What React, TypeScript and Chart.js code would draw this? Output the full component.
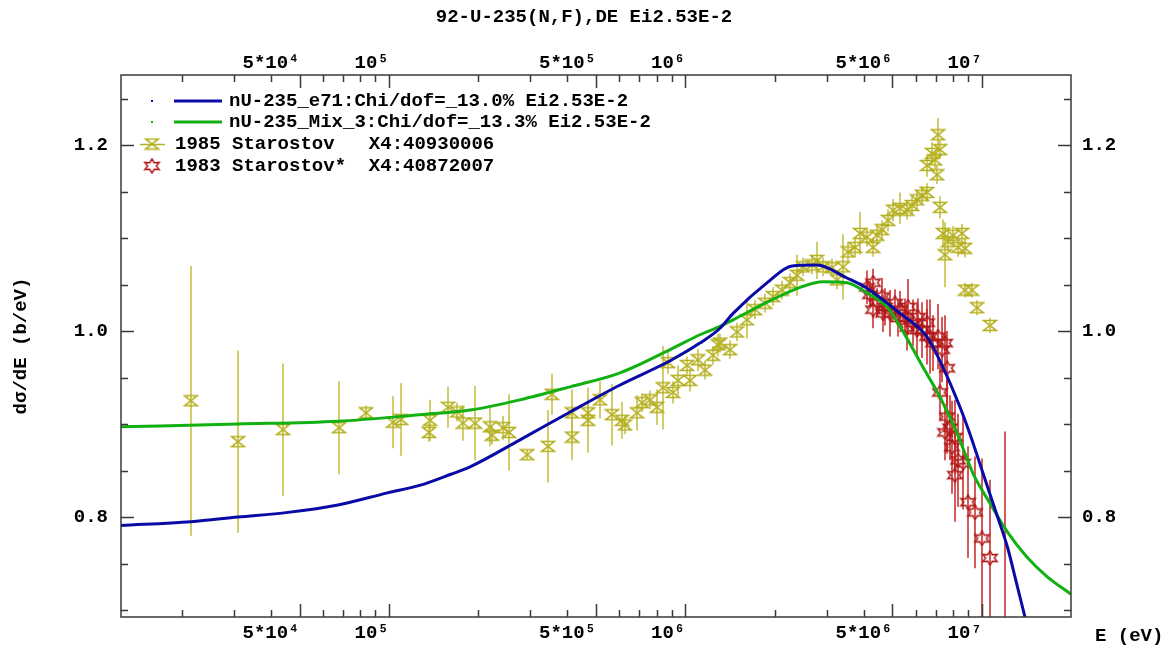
import React, { useEffect, useRef } from 'react';
import { Chart, registerables } from 'chart.js';

Chart.register(...registerables);

const FONT = "'Liberation Mono', 'DejaVu Sans Mono', monospace";

const chartTitle = '92-U-235(N,F),DE Ei2.53E-2';
const xAxisTitle = 'E (eV)';
const yAxisTitle = 'dσ/dE (b/eV)';

const xRange = [12500, 2.0e7];
const yRange = [0.6925, 1.2753];

const xMajorTicks = [5e4, 1e5, 5e5, 1e6, 5e6, 1e7];
const xMajorLabels = ['5*10⁴', '10⁵', '5*10⁵', '10⁶', '5*10⁶', '10⁷'];
const xMinorTicks = [2e4, 3e4, 4e4, 6e4, 7e4, 8e4, 9e4, 2e5, 3e5, 4e5, 6e5, 7e5, 8e5, 9e5, 2e6, 3e6, 4e6, 6e6, 7e6, 8e6, 9e6];
const yMajorTicks = [0.8, 1.0, 1.2];
const yMajorLabels = ['0.8', '1.0', '1.2'];
const yMinorTicks = [0.7, 0.75, 0.85, 0.9, 0.95, 1.05, 1.1, 1.15, 1.25];

const legendLabels = [
  'nU-235_e71:Chi/dof=_13.0% Ei2.53E-2',
  'nU-235_Mix_3:Chi/dof=_13.3% Ei2.53E-2',
  '1985 Starostov   X4:40930006',
  '1983 Starostov*  X4:40872007',
];

// evaluated curve nU-235_e71 (blue)
const e71Energy = [1.25e4, 2.15e4, 3.1e4, 4.57e4, 6.74e4, 9.9e4, 1.27e5, 1.62e5, 1.88e5, 2.77e5, 4.09e5, 6.03e5, 8.89e5, 1.12e6, 1.31e6, 1.45e6, 1.89e6, 2.29e6, 2.78e6, 3.51e6, 4.10e6, 5.30e6, 6.53e6, 7.40e6, 8.45e6, 9.13e6, 1.01e7, 1.12e7, 1.22e7, 1.31e7, 1.40e7, 1.45e7];
const e71Value = [0.791, 0.795, 0.8, 0.805, 0.813, 0.826, 0.834, 0.846, 0.854, 0.883, 0.913, 0.942, 0.968, 0.987, 1.003, 1.019, 1.052, 1.07, 1.071, 1.057, 1.046, 1.019, 0.994, 0.961, 0.918, 0.889, 0.847, 0.804, 0.768, 0.729, 0.692, 0.673];

// evaluated curve nU-235_Mix_3 (green)
const mix3Energy = [1.25e4, 3.1e4, 6.74e4, 1.27e5, 1.88e5, 2.77e5, 4.09e5, 6.03e5, 8.89e5, 1.12e6, 1.31e6, 1.45e6, 1.89e6, 2.44e6, 2.92e6, 3.51e6, 4.10e6, 4.79e6, 5.30e6, 6.34e6, 7.23e6, 8.26e6, 9.34e6, 1.07e7, 1.22e7, 1.42e7, 1.66e7, 2.0e7];
const mix3Value = [0.897, 0.9, 0.903, 0.91, 0.915, 0.926, 0.94, 0.955, 0.98, 0.996, 1.005, 1.012, 1.031, 1.047, 1.053, 1.052, 1.041, 1.026, 1.005, 0.961, 0.929, 0.89, 0.847, 0.814, 0.784, 0.757, 0.736, 0.717];

// [E (eV), value, uncertainty]
const starostov1985: [number, number, number][] = [
  [2.15e4, 0.925, 0.145], [3.1e4, 0.881, 0.098], [4.4e4, 0.894, 0.071], [6.8e4, 0.896, 0.05],
  [8.38e4, 0.912, 0.008], [1.034e5, 0.902, 0.028], [1.1e5, 0.905, 0.039], [1.378e5, 0.904, 0.022],
  [1.367e5, 0.891, 0.01], [1.585e5, 0.918, 0.022], [1.7e5, 0.913, 0.01], [1.78e5, 0.901, 0.019],
  [1.954e5, 0.901, 0.04], [2.196e5, 0.897, 0.021], [2.23e5, 0.888, 0.01], [2.43e5, 0.896, 0.013],
  [2.544e5, 0.891, 0.041], [2.93e5, 0.867, 0.005], [3.445e5, 0.876, 0.039], [3.55e5, 0.932, 0.022],
  [4.15e5, 0.912, 0.025], [4.15e5, 0.886, 0.025], [4.7e5, 0.912, 0.015], [4.7e5, 0.904, 0.035],
  [5.16e5, 0.926, 0.02], [5.66e5, 0.91, 0.033], [6.12e5, 0.904, 0.02], [6.26e5, 0.899, 0.01],
  [6.88e5, 0.912, 0.019], [7.15e5, 0.923, 0.01], [7.61e5, 0.926, 0.01], [8.03e5, 0.918, 0.019],
  [8.41e5, 0.939, 0.045], [8.75e5, 0.966, 0.012], [9.09e5, 0.934, 0.012], [9.45e5, 0.947, 0.016],
  [1.014e6, 0.963, 0.01], [1.038e6, 0.947, 0.012], [1.104e6, 0.969, 0.012], [1.166e6, 0.958, 0.01],
  [1.24e6, 0.974, 0.01], [1.29e6, 0.985, 0.012], [1.31e6, 0.987, 0.01], [1.416e6, 0.98, 0.01],
  [1.495e6, 0.999, 0.01], [1.616e6, 1.012, 0.02], [1.719e6, 1.023, 0.01], [1.858e6, 1.03, 0.01],
  [1.977e6, 1.037, 0.01], [2.12e6, 1.044, 0.01], [2.256e6, 1.052, 0.01], [2.382e6, 1.06, 0.022],
  [2.496e6, 1.069, 0.01], [2.676e6, 1.071, 0.01], [2.782e6, 1.076, 0.02], [2.914e6, 1.069, 0.01],
  [3.126e6, 1.068, 0.01], [3.25e6, 1.055, 0.01], [3.405e6, 1.069, 0.035], [3.54e6, 1.085, 0.01],
  [3.738e6, 1.09, 0.01], [3.886e6, 1.105, 0.023], [4.1e6, 1.101, 0.01], [4.3e6, 1.09, 0.01],
  [4.436e6, 1.103, 0.01], [4.61e6, 1.109, 0.01], [4.83e6, 1.119, 0.012], [5.02e6, 1.13, 0.012],
  [5.3e6, 1.132, 0.017], [5.6e6, 1.13, 0.01], [5.82e6, 1.135, 0.01], [6.05e6, 1.141, 0.01],
  [6.29e6, 1.146, 0.01], [6.54e6, 1.149, 0.01], [6.54e6, 1.178, 0.012], [6.8e6, 1.191, 0.012],
  [6.96e6, 1.184, 0.01], [7.12e6, 1.211, 0.018], [7.23e6, 1.195, 0.01], [7.07e6, 1.168, 0.01],
  [7.23e6, 1.133, 0.012], [7.4e6, 1.105, 0.015], [7.52e6, 1.082, 0.035], [7.7e6, 1.096, 0.01],
  [8.0e6, 1.103, 0.01], [8.32e6, 1.09, 0.01], [8.58e6, 1.105, 0.01], [8.78e6, 1.089, 0.01],
  [8.78e6, 1.044, 0.008], [9.27e6, 1.044, 0.008], [9.64e6, 1.025, 0.008], [1.066e7, 1.006, 0.008],
];

const starostov1983: [number, number, number][] = [
  [4.1e6, 1.047, 0.018], [4.2e6, 1.039, 0.015], [4.3e6, 1.052, 0.015], [4.3e6, 1.023, 0.02],
  [4.436e6, 1.031, 0.015], [4.61e6, 1.037, 0.02], [4.645e6, 1.019, 0.02], [4.72e6, 1.026, 0.02],
  [4.905e6, 1.019, 0.025], [5.1e6, 1.03, 0.015], [5.22e6, 1.014, 0.02], [5.3e6, 1.023, 0.02],
  [5.51e6, 1.015, 0.02], [5.6e6, 1.004, 0.025], [5.64e6, 1.026, 0.03], [5.865e6, 1.009, 0.025],
  [6.05e6, 1.001, 0.03], [6.1e6, 1.015, 0.02], [6.29e6, 1.001, 0.03], [6.54e6, 1.009, 0.025],
  [6.54e6, 0.994, 0.03], [6.69e6, 0.994, 0.04], [6.85e6, 0.987, 0.03], [7.12e6, 0.994, 0.035],
  [7.23e6, 0.934, 0.03], [7.35e6, 0.98, 0.035], [7.52e6, 0.987, 0.03], [7.52e6, 0.891, 0.03],
  [7.64e6, 0.96, 0.04], [7.64e6, 0.908, 0.04], [7.82e6, 0.896, 0.035], [7.94e6, 0.875, 0.05],
  [8.12e6, 0.886, 0.04], [8.12e6, 0.845, 0.05], [8.32e6, 0.861, 0.05], [8.65e6, 0.858, 0.05],
  [8.99e6, 0.816, 0.06], [9.49e6, 0.805, 0.06], [1.002e7, 0.777, 0.086], [1.066e7, 0.756, 0.084],
  [1.198e7, 0.6, 0.292],
];

const BLUE = '#0a0aa6';
const GREEN = '#12b012';
const YELLOW = '#b5b020';
const YELLOW_BAR = '#c2bd3a';
const RED = '#b01818';
const RED_BAR = '#c42424';

function makeHourglass(color: string) {
  const c = document.createElement('canvas');
  c.width = 16; c.height = 13;
  const g = c.getContext('2d')!;
  g.strokeStyle = color; g.lineWidth = 1.6;
  g.beginPath();
  g.moveTo(1.5, 1.5); g.lineTo(14.5, 1.5); g.lineTo(1.5, 11.5); g.lineTo(14.5, 11.5); g.closePath();
  g.stroke();
  return c;
}

function makeStar(color: string) {
  const c = document.createElement('canvas');
  c.width = 19; c.height = 16;
  const g = c.getContext('2d')!;
  g.strokeStyle = color; g.lineWidth = 1.5;
  g.beginPath();
  for (let k = 0; k < 12; k++) {
    const ang = -Math.PI / 2 + (k * Math.PI) / 6;
    const r = k % 2 === 0 ? 7.5 : 4;
    const x = 9.5 + r * Math.cos(ang) * 1.1;
    const y = 8 + r * Math.sin(ang) * 0.95;
    if (k === 0) g.moveTo(x, y); else g.lineTo(x, y);
  }
  g.closePath();
  g.stroke();
  return c;
}

const fontSpec = { family: FONT, size: 19, weight: 'bold' as const, lineHeight: 1.2 };

const errorBarPlugin = {
  id: 'errorBars',
  beforeDatasetsDraw(chart: any) {
    const { ctx, chartArea: a, scales } = chart;
    ctx.save();
    ctx.beginPath();
    ctx.rect(a.left, a.top, a.right - a.left, a.bottom - a.top);
    ctx.clip();
    chart.data.datasets.forEach((ds: any) => {
      if (!ds.errors) return;
      ctx.strokeStyle = ds.errorColor;
      ctx.lineWidth = 1.5;
      ds.data.forEach((p: any, j: number) => {
        const x = Math.round(scales.x.getPixelForValue(p.x));
        const y1 = scales.y.getPixelForValue(p.y - ds.errors[j]);
        const y2 = scales.y.getPixelForValue(p.y + ds.errors[j]);
        ctx.beginPath();
        ctx.moveTo(x, y1);
        ctx.lineTo(x, y2);
        ctx.stroke();
      });
    });
    ctx.restore();
  },
};

const decorPlugin = {
  id: 'decor',
  afterDatasetsDraw(chart: any) {
    const { ctx, chartArea: a, scales } = chart;
    ctx.save();
    ctx.strokeStyle = '#3a3a3a';
    ctx.lineWidth = 1.5;
    ctx.strokeRect(a.left, a.top, a.right - a.left, a.bottom - a.top);
    const xTick = (v: number, len: number) => {
      const p = Math.round(scales.x.getPixelForValue(v)) + 0.5;
      ctx.beginPath();
      ctx.moveTo(p, a.bottom); ctx.lineTo(p, a.bottom - len);
      ctx.moveTo(p, a.top); ctx.lineTo(p, a.top + len);
      ctx.stroke();
    };
    const yTick = (v: number, len: number) => {
      const p = Math.round(scales.y.getPixelForValue(v)) + 0.5;
      ctx.beginPath();
      ctx.moveTo(a.left, p); ctx.lineTo(a.left + len, p);
      ctx.moveTo(a.right, p); ctx.lineTo(a.right - len, p);
      ctx.stroke();
    };
    xMajorTicks.forEach((v) => xTick(v, 13));
    xMinorTicks.forEach((v) => xTick(v, 7));
    yMajorTicks.forEach((v) => yTick(v, 13));
    yMinorTicks.forEach((v) => yTick(v, 7));
    ctx.restore();
  },
  afterDraw(chart: any) {
    const { ctx } = chart;
    ctx.save();
    ctx.font = `bold 19px ${FONT}`;
    ctx.fillStyle = '#000';
    ctx.textBaseline = 'middle';
    ctx.textAlign = 'left';
    const rows = [101, 122, 144, 166];
    // blue
    ctx.fillStyle = BLUE;
    ctx.fillRect(151, rows[0] - 1, 2, 2);
    ctx.strokeStyle = BLUE; ctx.lineWidth = 3;
    ctx.beginPath(); ctx.moveTo(174, rows[0]); ctx.lineTo(222, rows[0]); ctx.stroke();
    // green
    ctx.fillStyle = GREEN;
    ctx.fillRect(151, rows[1] - 1, 2, 2);
    ctx.strokeStyle = GREEN;
    ctx.beginPath(); ctx.moveTo(174, rows[1]); ctx.lineTo(222, rows[1]); ctx.stroke();
    // yellow
    ctx.strokeStyle = YELLOW; ctx.lineWidth = 1.5;
    ctx.beginPath(); ctx.moveTo(140, rows[2] + 0.5); ctx.lineTo(165, rows[2] + 0.5); ctx.stroke();
    const hg = makeHourglass(YELLOW);
    ctx.drawImage(hg, 152 - hg.width / 2, rows[2] - hg.height / 2);
    const st = makeStar(RED);
    ctx.drawImage(st, 152 - st.width / 2, rows[3] - st.height / 2);
    ctx.fillStyle = '#000';
    ctx.fillText(legendLabels[0], 229, rows[0]);
    ctx.fillText(legendLabels[1], 229, rows[1]);
    ctx.fillText(legendLabels[2], 175, rows[2]);
    ctx.fillText(legendLabels[3], 175, rows[3]);
    ctx.fillText(xAxisTitle, 1095, 636);
    ctx.restore();
  },
};

export default function App() {
  const ref = useRef<HTMLCanvasElement>(null);
  useEffect(() => {
    const canvas = ref.current!;
    const hourglass = makeHourglass(YELLOW);
    const star = makeStar(RED);
    const allX = [...xMinorTicks, ...xMajorTicks].sort((p, q) => p - q);
    const allY = [...yMinorTicks, ...yMajorTicks].sort((p, q) => p - q);
    const xLabel = (v: any) => {
      const i = xMajorTicks.indexOf(Number(v));
      return i >= 0 ? xMajorLabels[i] : '';
    };
    const yLabel = (v: any) => {
      const i = yMajorTicks.indexOf(Number(v));
      return i >= 0 ? yMajorLabels[i] : '';
    };
    const xScaleBase = (position: string) => ({
      type: 'logarithmic' as const,
      position,
      min: xRange[0],
      max: xRange[1],
      grid: { display: false, drawTicks: false },
      border: { display: false },
      afterBuildTicks: (s: any) => { s.ticks = allX.map((v) => ({ value: v })); },
      ticks: {
        autoSkip: false, maxRotation: 0, minRotation: 0, align: 'end' as const,
        padding: position === 'top' ? 0 : 5, color: '#000', font: fontSpec, callback: xLabel,
      },
    });
    const yScaleBase = (position: string) => ({
      type: 'linear' as const,
      position,
      min: yRange[0],
      max: yRange[1],
      grid: { display: false, drawTicks: false },
      border: { display: false },
      afterBuildTicks: (s: any) => { s.ticks = allY.map((v) => ({ value: v })); },
      ticks: {
        autoSkip: false, padding: position === 'left' ? 13 : 11, color: '#000', font: fontSpec, callback: yLabel,
      },
    });
    const chart = new Chart(canvas, {
      type: 'line',
      data: {
        datasets: [
          {
            label: legendLabels[0],
            data: e71Energy.map((e, i) => ({ x: e, y: e71Value[i] })),
            borderColor: BLUE, borderWidth: 3, pointRadius: 0, cubicInterpolationMode: 'monotone', fill: false,
          },
          {
            label: legendLabels[1],
            data: mix3Energy.map((e, i) => ({ x: e, y: mix3Value[i] })),
            borderColor: GREEN, borderWidth: 3, pointRadius: 0, cubicInterpolationMode: 'monotone', fill: false,
          },
          {
            label: legendLabels[2],
            data: starostov1985.map((r) => ({ x: r[0], y: r[1] })),
            errors: starostov1985.map((r) => r[2]),
            errorColor: YELLOW_BAR,
            showLine: false, pointStyle: hourglass, pointRadius: 6, borderColor: YELLOW, backgroundColor: YELLOW,
          } as any,
          {
            label: legendLabels[3],
            data: starostov1983.map((r) => ({ x: r[0], y: r[1] })),
            errors: starostov1983.map((r) => r[2]),
            errorColor: RED_BAR,
            showLine: false, pointStyle: star, pointRadius: 6, borderColor: RED, backgroundColor: RED,
          } as any,
        ],
      },
      options: {
        animation: false,
        responsive: false,
        events: [],
        layout: { padding: 0 },
        plugins: {
          legend: { display: false },
          tooltip: { enabled: false },
          title: {
            display: true, text: chartTitle, color: '#000', font: fontSpec,
            padding: { top: 6, bottom: 0 },
          },
        },
        scales: {
          x: { ...xScaleBase('bottom'), afterFit: (s: any) => { s.height = 33; } },
          x2: {
            ...xScaleBase('top'),
            afterFit: (s: any) => {
              const th = s.chart.titleBlock && s.chart.titleBlock.height ? s.chart.titleBlock.height : 28.8;
              s.height = 75 - th;
            },
          },
          y: {
            ...yScaleBase('left'),
            afterFit: (s: any) => { s.width = 121; },
            title: { display: true, text: yAxisTitle, color: '#000', font: fontSpec, padding: { top: 10, bottom: 0 } },
          },
          y2: { ...yScaleBase('right'), afterFit: (s: any) => { s.width = 97; } },
        },
      } as any,
      plugins: [errorBarPlugin, decorPlugin],
    });
    return () => chart.destroy();
  }, []);
  return (
    <canvas
      ref={ref}
      width={1168}
      height={650}
      style={{ position: 'absolute', left: 0, top: 0, width: 1168, height: 650 }}
    />
  );
}
